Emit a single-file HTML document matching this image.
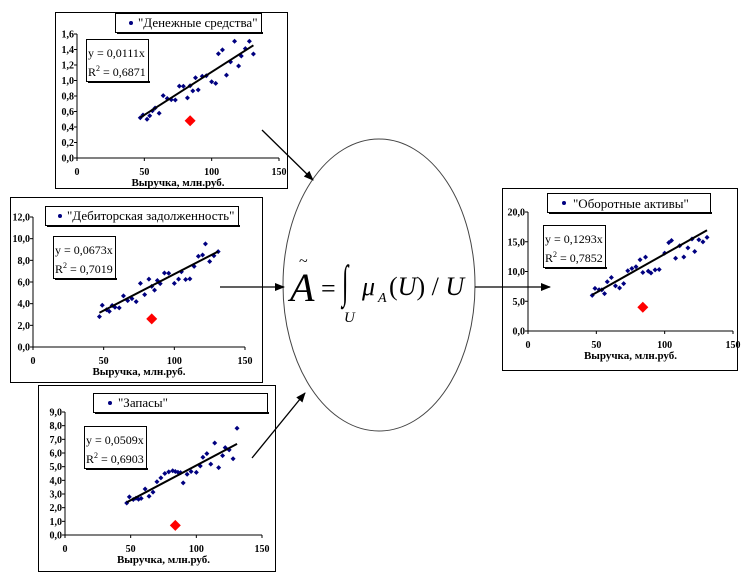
<!DOCTYPE html>
<html><head><meta charset="utf-8"><style>
html,body{margin:0;padding:0;background:#fff;width:748px;height:578px;overflow:hidden}
svg{display:block}
text{font-family:"Liberation Serif",serif;fill:#000}
.t{font-weight:bold}
.l{font-size:13px}
.e{font-size:12px}
</style></head><body>
<svg id="s" width="748" height="578" viewBox="0 0 748 578" xmlns="http://www.w3.org/2000/svg">
<defs><marker id="ar" markerWidth="10" markerHeight="8" refX="9" refY="4" orient="auto" markerUnits="userSpaceOnUse"><path d="M0,0 L10,4 L0,8 z" fill="#000"/></marker></defs>

<rect x="55.5" y="12.5" width="232" height="176" fill="#fff" stroke="#000"/>
<rect x="10.5" y="197.5" width="252" height="185" fill="#fff" stroke="#000"/>
<rect x="38.5" y="385.5" width="237" height="186" fill="#fff" stroke="#000"/>
<rect x="502.5" y="188.5" width="235" height="182" fill="#fff" stroke="#000"/>

<g id="charts"></g>

<rect x="115.5" y="13.5" width="146" height="19" fill="#fff" stroke="#000"/><rect x="117" y="32" width="146" height="2" fill="#000"/>
<circle cx="131" cy="23" r="2" fill="#000080"/><text class="l" x="138" y="27">"Денежные средства"</text>
<rect x="86.5" y="39.5" width="62" height="42" fill="#fff" stroke="#000"/><rect x="88" y="81" width="62" height="2" fill="#000"/>
<text class="e" x="88" y="57">y = 0,0111x</text><text class="e" x="88" y="76">R<tspan dy="-5" font-size="8">2</tspan><tspan dy="5"> = 0,6871</tspan></text>

<rect x="45.5" y="206.5" width="193" height="19" fill="#fff" stroke="#000"/><rect x="47" y="225" width="193" height="2" fill="#000"/>
<circle cx="60" cy="216" r="2" fill="#000080"/><text class="l" x="67" y="220">"Дебиторская задолженность"</text>
<rect x="53.5" y="236.5" width="62" height="42" fill="#fff" stroke="#000"/><rect x="55" y="278" width="62" height="2" fill="#000"/>
<text class="e" x="55" y="254">y = 0,0673x</text><text class="e" x="55" y="273">R<tspan dy="-5" font-size="8">2</tspan><tspan dy="5"> = 0,7019</tspan></text>

<rect x="93.5" y="393.5" width="174" height="19" fill="#fff" stroke="#000"/><rect x="95" y="412" width="174" height="2" fill="#000"/>
<circle cx="110" cy="403" r="2" fill="#000080"/><text class="l" x="118" y="407">"Запасы"</text>
<rect x="84.5" y="426.5" width="62" height="42" fill="#fff" stroke="#000"/><rect x="86" y="468" width="62" height="2" fill="#000"/>
<text class="e" x="86" y="444">y = 0,0509x</text><text class="e" x="86" y="463">R<tspan dy="-5" font-size="8">2</tspan><tspan dy="5"> = 0,6903</tspan></text>

<rect x="547.5" y="193.5" width="163" height="19" fill="#fff" stroke="#000"/><rect x="549" y="212" width="163" height="2" fill="#000"/>
<circle cx="564" cy="203" r="2" fill="#000080"/><text class="l" x="573" y="208">"Оборотные активы"</text>
<rect x="543.5" y="225.5" width="62" height="42" fill="#fff" stroke="#000"/><rect x="545" y="267" width="62" height="2" fill="#000"/>
<text class="e" x="545" y="243">y = 0,1293x</text><text class="e" x="545" y="262">R<tspan dy="-5" font-size="8">2</tspan><tspan dy="5"> = 0,7852</tspan></text>

<ellipse cx="379" cy="285" rx="96" ry="146" fill="#fff" stroke="#444" stroke-width="1"/>
<text x="290" y="301" font-size="40" font-style="italic">A</text>
<text x="299" y="266" font-size="16">~</text>
<text x="321" y="297" font-size="26">=</text>
<text x="0" y="0" font-size="46" transform="translate(342,297) scale(0.5,1)">∫</text>
<text x="344" y="322" font-size="15" font-style="italic">U</text>
<text x="362" y="295" font-size="26" font-style="italic">μ</text>
<text x="378" y="302" font-size="14" font-style="italic">A</text>
<text x="389" y="295" font-size="26">(<tspan font-style="italic">U</tspan>) / <tspan font-style="italic">U</tspan></text>

<line x1="262" y1="130" x2="313" y2="180" stroke="#000" stroke-width="1.3" marker-end="url(#ar)"/>
<line x1="220" y1="287" x2="284" y2="287" stroke="#000" stroke-width="1.3" marker-end="url(#ar)"/>
<line x1="252" y1="458" x2="305" y2="393" stroke="#000" stroke-width="1.3" marker-end="url(#ar)"/>
<line x1="475" y1="287" x2="550" y2="287" stroke="#000" stroke-width="1.3" marker-end="url(#ar)"/>
</svg>
<script>
var NS="http://www.w3.org/2000/svg",g=document.getElementById("charts");
function el(n,a,t){var e=document.createElementNS(NS,n);for(var k in a)e.setAttribute(k,a[k]);if(t!==undefined)e.textContent=t;g.appendChild(e);return e;}
var seed=7;function rnd(){seed=(seed*9301+49297)%233280;return seed/233280;}
var xs=[47,49,52,54,56,58,61,64,67,70,73,76,79,82,84,86,88,90,93,96,100,103,105,108,111,114,117,120,122,125,128,131];
function chart(c){
 var ax=c.ax,y0=c.y0,yt=c.yt,x150=c.x150,max=c.max,step=c.step;
 var sx=function(v){return ax+(x150-ax)*v/150;},sy=function(v){return y0-(y0-yt)*v/max;};
 el("line",{x1:ax,y1:yt,x2:ax,y2:y0,stroke:"#000"});
 el("line",{x1:ax,y1:y0,x2:x150,y2:y0,stroke:"#000"});
 for(var v=0;v<=max+1e-9;v+=step){var yy=sy(v);el("line",{x1:ax-3,y1:yy,x2:ax,y2:yy,stroke:"#000"});
  el("text",{x:ax-3,y:yy+3.5,"font-size":"10","text-anchor":"end",class:"t"},v.toFixed(1).replace(".",","));}
 [0,50,100,150].forEach(function(v){el("line",{x1:sx(v),y1:y0,x2:sx(v),y2:y0+3,stroke:"#000"});
  el("text",{x:sx(v),y:y0+17,"font-size":"10","text-anchor":"middle",class:"t"},v);});
 el("text",{x:(ax+x150)/2,y:y0+28,"font-size":"11","text-anchor":"middle",class:"t"},"Выручка, млн.руб.");
 xs.forEach(function(x){var v=c.k*x*(1+(rnd()-0.5)*0.35);var px=sx(x),py=sy(v);
  el("path",{d:"M"+px+","+(py-2.5)+"L"+(px+2.5)+","+py+"L"+px+","+(py+2.5)+"L"+(px-2.5)+","+py+"z",fill:"#000080"});});
 el("line",{x1:sx(47),y1:sy(c.k*47),x2:sx(131),y2:sy(c.k*131),stroke:"#000","stroke-width":2});
 var rx=sx(84),ry=sy(c.red);
 el("path",{d:"M"+rx+","+(ry-5.5)+"L"+(rx+5.5)+","+ry+"L"+rx+","+(ry+5.5)+"L"+(rx-5.5)+","+ry+"z",fill:"#ff0000"});
}
chart({ax:77,y0:158,yt:34,x150:279,max:1.6,step:0.2,k:0.0111,red:0.48});
chart({ax:33,y0:347,yt:217,x150:245,max:12,step:2,k:0.0673,red:2.6});
chart({ax:65,y0:535,yt:412,x150:262,max:9,step:1,k:0.0509,red:0.7});
chart({ax:528,y0:331,yt:212,x150:733,max:20,step:5,k:0.1293,red:4});
</script>
</body></html>
